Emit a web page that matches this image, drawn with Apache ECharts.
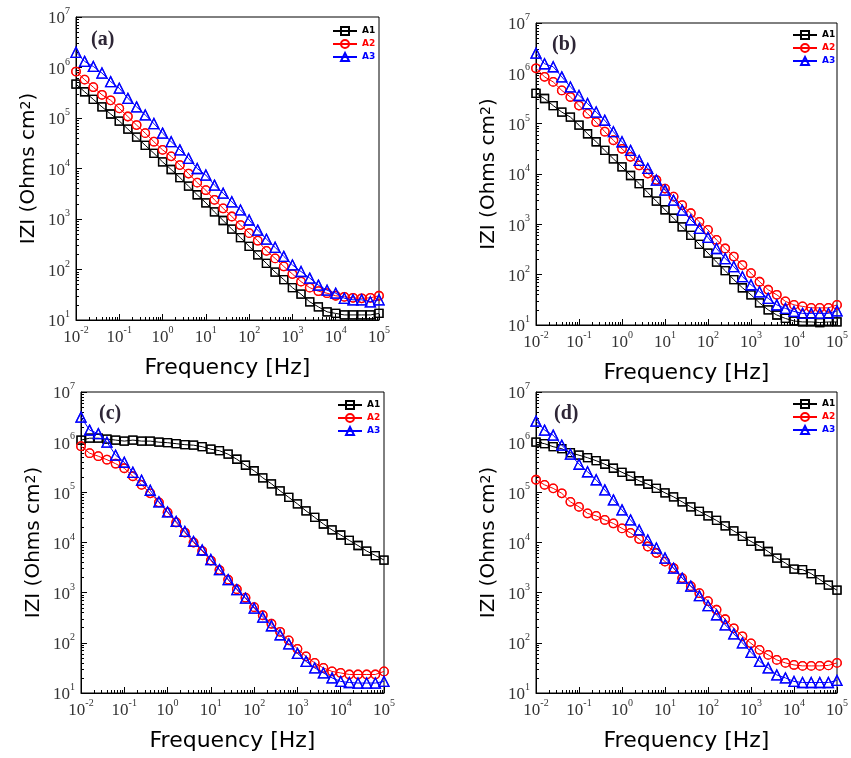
<!DOCTYPE html>
<html>
<head>
<meta charset="utf-8">
<title>Bode |Z|</title>
<script src="https://cdn.jsdelivr.net/npm/echarts@6/dist/echarts.min.js"></script>
<style>
  html, body { margin: 0; padding: 0; background: #fff; }
  #container_bode { width: 851px; height: 758px; }
</style>
</head>
<body>
<div id="container_bode"></div>
<script>
// 频率点 (Hz)，每十倍频 5 点
var freq = [0.01, 0.0158, 0.0251, 0.0398, 0.0631, 0.1, 0.158, 0.251, 0.398, 0.631,
  1, 1.58, 2.51, 3.98, 6.31, 10, 15.8, 25.1, 39.8, 63.1,
  100, 158, 251, 398, 631, 1000, 1580, 2510, 3980, 6310,
  10000, 15800, 25100, 39800, 63100, 100000];

// 坐标轴刻度
var xTicks = [0.01, 0.1, 1, 10, 100, 1000, 10000, 100000];
var xTickExp = ["-2", "-1", "0", "1", "2", "3", "4", "5"];
var yTicks = [10, 100, 1000, 10000, 100000, 1000000, 10000000];
var yTickExp = ["1", "2", "3", "4", "5", "6", "7"];

var seriesNames = ["A1", "A2", "A3"];
var panelNames = ["(a)", "(b)", "(c)", "(d)"];

// |Z| (Ohms cm2)
var a_A1 = [468000, 331000, 234000, 166000, 120000, 87100, 60300, 41700, 28800, 20000,
  13500, 9550, 6610, 4470, 3020, 2090, 1380, 933, 631, 427,
  288, 195, 132, 89.1, 63.1, 43.7, 32.4, 22.9, 18.2, 14.5,
  13.5, 12.6, 12.6, 12.6, 12.6, 13.5];
var a_A2 = [832000, 575000, 407000, 288000, 224000, 155000, 107000, 72400, 50100, 33900,
  23400, 17400, 11700, 7940, 5250, 3720, 2400, 1620, 1120, 759,
  525, 372, 234, 166, 115, 81.3, 57.5, 43.7, 37.2, 33.9,
  30.2, 28.8, 27.5, 26.9, 27.5, 30.2];
var a_A3 = [2000000, 1320000, 1050000, 776000, 525000, 389000, 245000, 166000, 115000, 77600,
  50100, 33900, 23400, 15800, 10000, 7410, 4680, 3240, 2190, 1510,
  955, 603, 398, 275, 182, 123, 91.2, 67.6, 49, 38.9,
  33.9, 26.9, 25.1, 25.1, 22.9, 25.1];

var b_A1 = [398000, 316000, 229000, 170000, 135000, 93300, 63100, 43700, 29500, 20000,
  13800, 9330, 6460, 4270, 2880, 1950, 1320, 891, 603, 398,
  269, 178, 120, 79.4, 55, 39.8, 27.5, 20, 15.8, 13.5,
  12, 11.5, 11.5, 11.2, 11.5, 11.5];
var b_A2 = [1260000, 851000, 676000, 457000, 339000, 229000, 158000, 107000, 69200, 46800,
  31600, 21900, 14800, 10200, 7590, 5130, 3550, 2400, 1660, 1120,
  776, 490, 331, 229, 155, 107, 72.4, 50.1, 39.8, 29.5,
  25.1, 23.4, 21.9, 21.9, 21.9, 25.1];
var b_A3 = [2510000, 1550000, 1350000, 851000, 537000, 363000, 251000, 170000, 117000, 69200,
  43700, 29500, 18600, 12900, 7590, 4790, 3020, 1910, 1230, 832,
  550, 331, 209, 145, 91.2, 63.1, 45.7, 33.9, 25.1, 21.4,
  18.6, 17, 17, 17, 17, 19.1];

var c_A1 = [1100000, 1200000, 1200000, 1150000, 1100000, 1050000, 1100000, 1050000, 1050000, 1000000,
  977000, 933000, 891000, 871000, 813000, 724000, 676000, 575000, 457000, 347000,
  269000, 195000, 148000, 107000, 79400, 58900, 42700, 31600, 23400, 17800,
  14100, 11000, 8710, 6760, 5500, 4470];
var c_A2 = [832000, 603000, 525000, 447000, 372000, 302000, 209000, 141000, 95500, 63100,
  39800, 25100, 15800, 10000, 6760, 4370, 2820, 1820, 1170, 794,
  513, 355, 240, 166, 112, 75.9, 53.7, 39.8, 31.6, 26.9,
  25.1, 23.4, 23.4, 23.4, 23.4, 26.9];
var c_A3 = [3160000, 1740000, 1480000, 1000000, 550000, 398000, 251000, 174000, 110000, 64600,
  40700, 26300, 16600, 10500, 7080, 4570, 2880, 1820, 1150, 776,
  490, 324, 219, 145, 95.5, 61.7, 42.7, 31.6, 25.1, 20,
  17, 16.2, 15.8, 15.8, 15.8, 17];

var d_A1 = [1000000, 933000, 813000, 741000, 617000, 550000, 490000, 427000, 363000, 302000,
  251000, 209000, 170000, 145000, 120000, 97700, 81300, 64600, 51300, 41700,
  33900, 27500, 21400, 17000, 13200, 10500, 8510, 6610, 4900, 3890,
  2950, 2880, 2400, 1820, 1410, 1120];
var d_A2 = [178000, 141000, 120000, 95500, 64600, 51300, 38000, 33900, 28200, 24000,
  19100, 15500, 11700, 8320, 6170, 4170, 3090, 1950, 1350, 977,
  676, 457, 295, 195, 135, 97.7, 72.4, 57.5, 45.7, 39.8,
  36.3, 34.7, 34.7, 34.7, 35.5, 39.8];
var d_A3 = [2630000, 1740000, 1380000, 871000, 575000, 363000, 257000, 178000, 112000, 70800,
  44700, 28200, 17800, 11200, 7760, 4900, 3090, 1950, 1350, 871,
  550, 363, 229, 151, 100, 64.6, 42.7, 31.6, 22.9, 20,
  17, 16.2, 16.2, 16.2, 16.2, 17.8];

var panelData = [
  [a_A1, a_A2, a_A3],
  [b_A1, b_A2, b_A3],
  [c_A1, c_A2, c_A3],
  [d_A1, d_A2, d_A3]
];

// 版面位置
var grids = [
  { left: 76, top: 17, width: 303, height: 303 },
  { left: 536, top: 23, width: 303, height: 302 },
  { left: 81, top: 392, width: 303, height: 301 },
  { left: 536, top: 392, width: 303, height: 301 }
];
var legendPos = [
  { left: 332, top: 26 },
  { left: 792, top: 30 },
  { left: 337, top: 400 },
  { left: 792, top: 399 }
];
var letterPos = [
  { left: 91, top: 30 },
  { left: 552, top: 35 },
  { left: 99, top: 404 },
  { left: 554, top: 404 }
];

var colors = ["#000000", "#ff0000", "#0000ff"];
var symbols = ["rect", "circle", "triangle"];
var symbolSizes = [8, 8.5, 10];

var tickFont = "Liberation Serif";
var nameFont = "DejaVu Sans";

// 次刻度 2..9
function minorValues(lo, hi) {
  var out = [];
  for (var e = lo; e < hi; e++) {
    for (var m = 2; m <= 9; m++) {
      out.push(m * Math.pow(10, e));
    }
  }
  return out;
}

function expLabel(v, ticks, exps) {
  var best = 0;
  for (var i = 0; i < ticks.length; i++) {
    if (Math.abs(Math.log(v / ticks[i])) < Math.abs(Math.log(v / ticks[best]))) best = i;
  }
  return "{b|10}{s|" + exps[best] + "}";
}

var labelRich = {
  b: { fontSize: 17, fontFamily: tickFont, color: "#333", lineHeight: 21, verticalAlign: "bottom" },
  s: { fontSize: 10, fontFamily: tickFont, color: "#333", lineHeight: 10, verticalAlign: "top" }
};

var option = {
  backgroundColor: "#fff",
  animation: false,
  grid: [],
  xAxis: [],
  yAxis: [],
  legend: [],
  series: [],
  graphic: []
};

for (var p = 0; p < 4; p++) {
  var g = grids[p];
  option.grid.push({
    left: g.left, top: g.top, width: g.width, height: g.height,
    show: true, borderColor: "#000", borderWidth: 1, backgroundColor: "transparent"
  });

  // 主刻度 + 标签
  option.xAxis.push({
    type: "log", logBase: 10, gridIndex: p, min: 0.01, max: 100000,
    position: "bottom",
    axisLine: { show: true, lineStyle: { color: "#000", width: 1 } },
    axisTick: { show: true, inside: true, length: 6, customValues: xTicks, lineStyle: { color: "#000" } },
    axisLabel: {
      show: true, customValues: xTicks, margin: 5,
      formatter: function (v) { return expLabel(v, xTicks, xTickExp); },
      rich: labelRich
    },
    splitLine: { show: false },
    name: "Frequency [Hz]", nameLocation: "middle", nameGap: 37,
    nameTextStyle: { fontSize: 22, fontFamily: nameFont, color: "#000" }
  });
  // 次刻度
  option.xAxis.push({
    type: "log", logBase: 10, gridIndex: p, min: 0.01, max: 100000,
    position: "bottom",
    axisLine: { show: false },
    axisTick: { show: true, inside: true, length: 3, customValues: minorValues(-2, 5), lineStyle: { color: "#000" } },
    axisLabel: { show: false },
    splitLine: { show: false }
  });

  option.yAxis.push({
    type: "log", logBase: 10, gridIndex: p, min: 10, max: 10000000,
    position: "left",
    axisLine: { show: true, lineStyle: { color: "#000", width: 1 } },
    axisTick: { show: true, inside: true, length: 6, customValues: yTicks, lineStyle: { color: "#000" } },
    axisLabel: {
      show: true, customValues: yTicks, margin: 6,
      formatter: function (v) { return expLabel(v, yTicks, yTickExp); },
      rich: labelRich
    },
    splitLine: { show: false },
    name: "IZI (Ohms cm{s|2})", nameLocation: "middle", nameGap: 37,
    nameTextStyle: {
      fontSize: 20, fontFamily: nameFont, color: "#000",
      rich: { s: { fontSize: 14, fontFamily: nameFont, color: "#000", verticalAlign: "top", lineHeight: 12 } }
    }
  });
  option.yAxis.push({
    type: "log", logBase: 10, gridIndex: p, min: 10, max: 10000000,
    position: "left",
    axisLine: { show: false },
    axisTick: { show: true, inside: true, length: 3, customValues: minorValues(1, 7), lineStyle: { color: "#000" } },
    axisLabel: { show: false },
    splitLine: { show: false }
  });

  for (var s = 0; s < 3; s++) {
    var vals = panelData[p][s];
    var pts = [];
    for (var i = 0; i < freq.length; i++) pts.push([freq[i], vals[i]]);
    var markStyle = { color: "rgba(0,0,0,0)", borderColor: colors[s], borderWidth: 1.3 };
    // 折线（图例用）
    option.series.push({
      name: seriesNames[s],
      type: "line",
      xAxisIndex: p * 2,
      yAxisIndex: p * 2,
      data: pts,
      symbol: symbols[s],
      symbolSize: symbolSizes[s],
      showSymbol: true,
      showAllSymbol: true,
      lineStyle: { color: colors[s], width: 1 },
      itemStyle: markStyle,
      emphasis: { disabled: true },
      z: 2 + s
    });
    // 每个数据点的空心标记
    option.series.push({
      name: seriesNames[s] + " pts",
      type: "scatter",
      xAxisIndex: p * 2,
      yAxisIndex: p * 2,
      data: pts,
      symbol: symbols[s],
      symbolSize: symbolSizes[s],
      itemStyle: markStyle,
      emphasis: { disabled: true },
      silent: true,
      z: 2 + s
    });
  }

  option.legend.push({
    left: legendPos[p].left, top: legendPos[p].top,
    orient: "vertical", itemWidth: 24, itemHeight: 10, itemGap: 3,
    padding: 0, selectedMode: false,
    textStyle: { fontSize: 9, fontWeight: "bold", fontFamily: nameFont },
    data: seriesNames.map(function (n, k) {
      return { name: n, textStyle: { color: colors[k] } };
    })
  });

  option.graphic.push({
    type: "text", left: letterPos[p].left, top: letterPos[p].top,
    style: { text: panelNames[p], font: "bold 20px 'Liberation Serif'", fill: "#2e2636" }
  });
}

var myChart = echarts.init(document.getElementById("container_bode"), null, { renderer: "canvas" });
myChart.setOption(option);
</script>
</body>
</html>
